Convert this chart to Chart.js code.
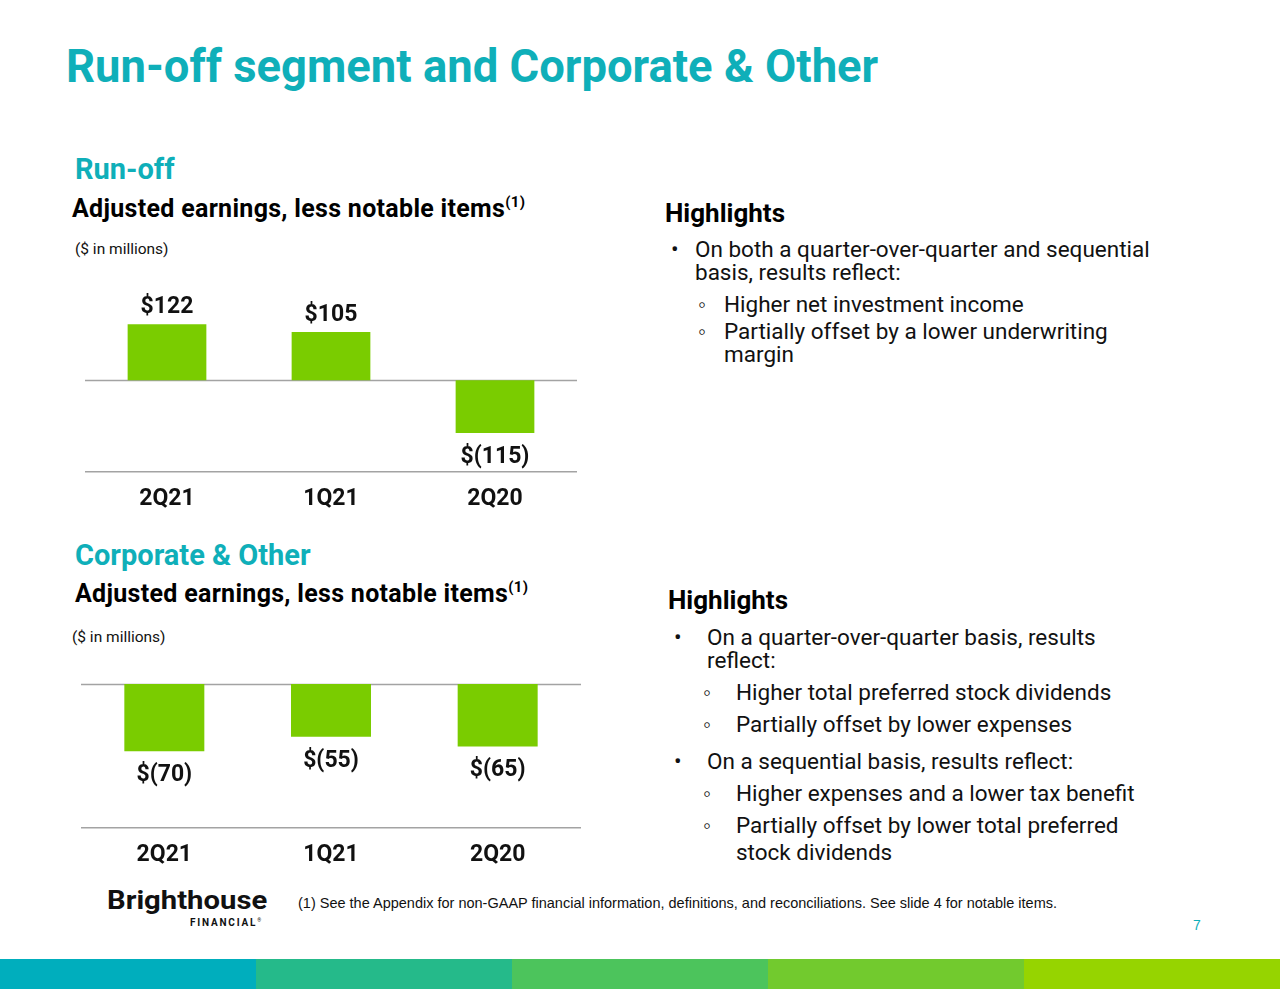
<!DOCTYPE html>
<html>
<head>
<meta charset="utf-8">
<script src="https://cdn.jsdelivr.net/npm/chart.js@4.4.0/dist/chart.umd.min.js"></script>
<style>
  html, body { margin: 0; padding: 0; background: #fff; }
  body { width: 1280px; height: 989px; position: relative; overflow: hidden; font-family: Roboto, "Noto Sans", sans-serif; color: #111; }
  .t { position: absolute; white-space: nowrap; line-height: 1; }
  .teal { color: #0fafb9; }
  .b { font-weight: 700; }
  .hl { font-size: 26px; font-weight: 700; color: #000; }
  .li { font-size: 22.5px; line-height: 0.9; color: #111; }
  .wrap { line-height: 23px; }
  .sub { font-size: 15px; position: relative; top: -10px; }
  .ft { font-family: 'Liberation Sans', Arial, sans-serif; }
  canvas { position: absolute; }
  .band { position: absolute; top: 959px; height: 30px; width: 256px; }
</style>
</head>
<body>

<div class="t teal b" style="left:66px; top:44px; font-size:45.4px;">Run-off segment and Corporate &amp; Other</div>

<!-- Run-off -->
<div class="t teal b" style="left:75px; top:155px; font-size:29px;">Run-off</div>
<div class="t b" style="left:72px; top:196px; font-size:25px; letter-spacing:0.3px; color:#000;">Adjusted earnings, less notable items<span class="sub">(1)</span></div>
<div class="t" style="left:75px; top:242px; font-size:15.5px;">($ in millions)</div>

<div class="t hl" style="left:665px; top:200px;">Highlights</div>
<div class="t li" style="left:671px; top:239px;">•</div>
<div class="t li wrap" style="left:695px; top:238px;">On both a quarter-over-quarter and sequential<br>basis, results reflect:</div>
<div class="t li" style="left:698px; top:294px;">◦</div>
<div class="t li" style="left:724px; top:294px;">Higher net investment income</div>
<div class="t li" style="left:698px; top:321px;">◦</div>
<div class="t li wrap" style="left:724px; top:320px;">Partially offset by a lower underwriting<br>margin</div>

<canvas id="runoff" width="492" height="242" style="left:85px; top:270px;"></canvas>

<!-- Corporate & Other -->
<div class="t teal b" style="left:75px; top:541px; font-size:29px;">Corporate &amp; Other</div>
<div class="t b" style="left:75px; top:581px; font-size:25px; letter-spacing:0.3px; color:#000;">Adjusted earnings, less notable items<span class="sub">(1)</span></div>
<div class="t" style="left:72px; top:630px; font-size:15.5px;">($ in millions)</div>

<div class="t hl" style="left:668px; top:587px;">Highlights</div>
<div class="t li" style="left:674px; top:627px;">•</div>
<div class="t li wrap" style="left:707px; top:626px;">On a quarter-over-quarter basis, results<br>reflect:</div>
<div class="t li" style="left:703px; top:682px;">◦</div>
<div class="t li" style="left:736px; top:682px;">Higher total preferred stock dividends</div>
<div class="t li" style="left:703px; top:714px;">◦</div>
<div class="t li" style="left:736px; top:714px;">Partially offset by lower expenses</div>
<div class="t li" style="left:674px; top:751px;">•</div>
<div class="t li" style="left:707px; top:751px;">On a sequential basis, results reflect:</div>
<div class="t li" style="left:703px; top:783px;">◦</div>
<div class="t li" style="left:736px; top:783px;">Higher expenses and a lower tax benefit</div>
<div class="t li" style="left:703px; top:815px;">◦</div>
<div class="t li" style="left:736px; top:815px;">Partially offset by lower total preferred</div>
<div class="t li" style="left:736px; top:842px;">stock dividends</div>

<canvas id="corporate" width="500" height="194" style="left:81px; top:674px;"></canvas>

<!-- footer -->
<div class="t b" style="left:107px; top:888px; font-size:25px; color:#111; transform:scaleX(1.17); transform-origin:left top;">Brighthouse</div>
<div class="t b" style="left:190px; top:918px; font-size:10px; color:#111; letter-spacing:1.8px;">FINANCIAL<span style="font-size:5px; vertical-align:top; letter-spacing:0;">®</span></div>
<div class="t ft" style="left:298px; top:896px; font-size:14.5px;">(1) See the Appendix for non-GAAP financial information, definitions, and reconciliations. See slide 4 for notable items.</div>
<div class="t ft teal" style="left:1193px; top:918px; font-size:14px;">7</div>

<div class="band" style="left:0; background:#00aebd;"></div>
<div class="band" style="left:256px; background:#25ba8a;"></div>
<div class="band" style="left:512px; background:#4cc45c;"></div>
<div class="band" style="left:768px; background:#72ca2e;"></div>
<div class="band" style="left:1024px; background:#96d400;"></div>

<script>
var quarters = ['2Q21', '1Q21', '2Q20'];
var runoffValues = [122, 105, -115];
var corporateValues = [-70, -55, -65];

var barColor = '#7acc00';
var lineColor = '#a3a3a3';

function money(v) {
	return v < 0 ? '$(' + (-v) + ')' : '$' + v;
}

// zero line across the plot, drawn under the bars
var zeroLine = {
	id: 'zeroLine',
	beforeDatasetsDraw: function(chart) {
		var ctx = chart.ctx, area = chart.chartArea;
		var y = Math.round(chart.scales.y.getPixelForValue(0)) + 0.5;
		ctx.save();
		ctx.strokeStyle = lineColor;
		ctx.lineWidth = 1.5;
		ctx.beginPath();
		ctx.moveTo(area.left, y);
		ctx.lineTo(area.right, y);
		ctx.stroke();
		ctx.restore();
	}
};

// value labels above positive bars, below negative ones
var valueLabels = {
	id: 'valueLabels',
	afterDatasetsDraw: function(chart) {
		var ctx = chart.ctx;
		var meta = chart.getDatasetMeta(0);
		var values = chart.data.datasets[0].data;
		ctx.save();
		ctx.font = 'bold 23px Roboto';
		ctx.fillStyle = '#111';
		ctx.textAlign = 'center';
		ctx.textBaseline = 'middle';
		meta.data.forEach(function(bar, i) {
			var v = values[i];
			var y = v < 0 ? bar.y + 24 : bar.y - 17;
			ctx.fillText(money(v), bar.x, y);
		});
		ctx.restore();
	}
};

function makeChart(id, values, yMin, yMax, padTop) {
	return new Chart(document.getElementById(id), {
		type: 'bar',
		data: {
			labels: quarters,
			datasets: [{
				data: values,
				backgroundColor: barColor,
				borderWidth: 0,
				barPercentage: 0.48,
				categoryPercentage: 1
			}]
		},
		options: {
			responsive: false,
			animation: false,
			layout: { padding: { top: padTop, left: 0, right: 0, bottom: 0 } },
			plugins: { legend: { display: false }, tooltip: { enabled: false } },
			scales: {
				x: {
					grid: { display: false },
					border: { display: true, color: lineColor, width: 1.5 },
					ticks: { color: '#111', font: { family: 'Roboto', size: 23, weight: 'bold' }, padding: 5 },
					afterFit: function(axis) { axis.height = 40; }
				},
				y: { display: false, min: yMin, max: yMax }
			}
		},
		plugins: [zeroLine, valueLabels]
	});
}

makeChart('runoff', runoffValues, -200, 240, 0);
makeChart('corporate', corporateValues, -150, 0, 10);
</script>
</body>
</html>
